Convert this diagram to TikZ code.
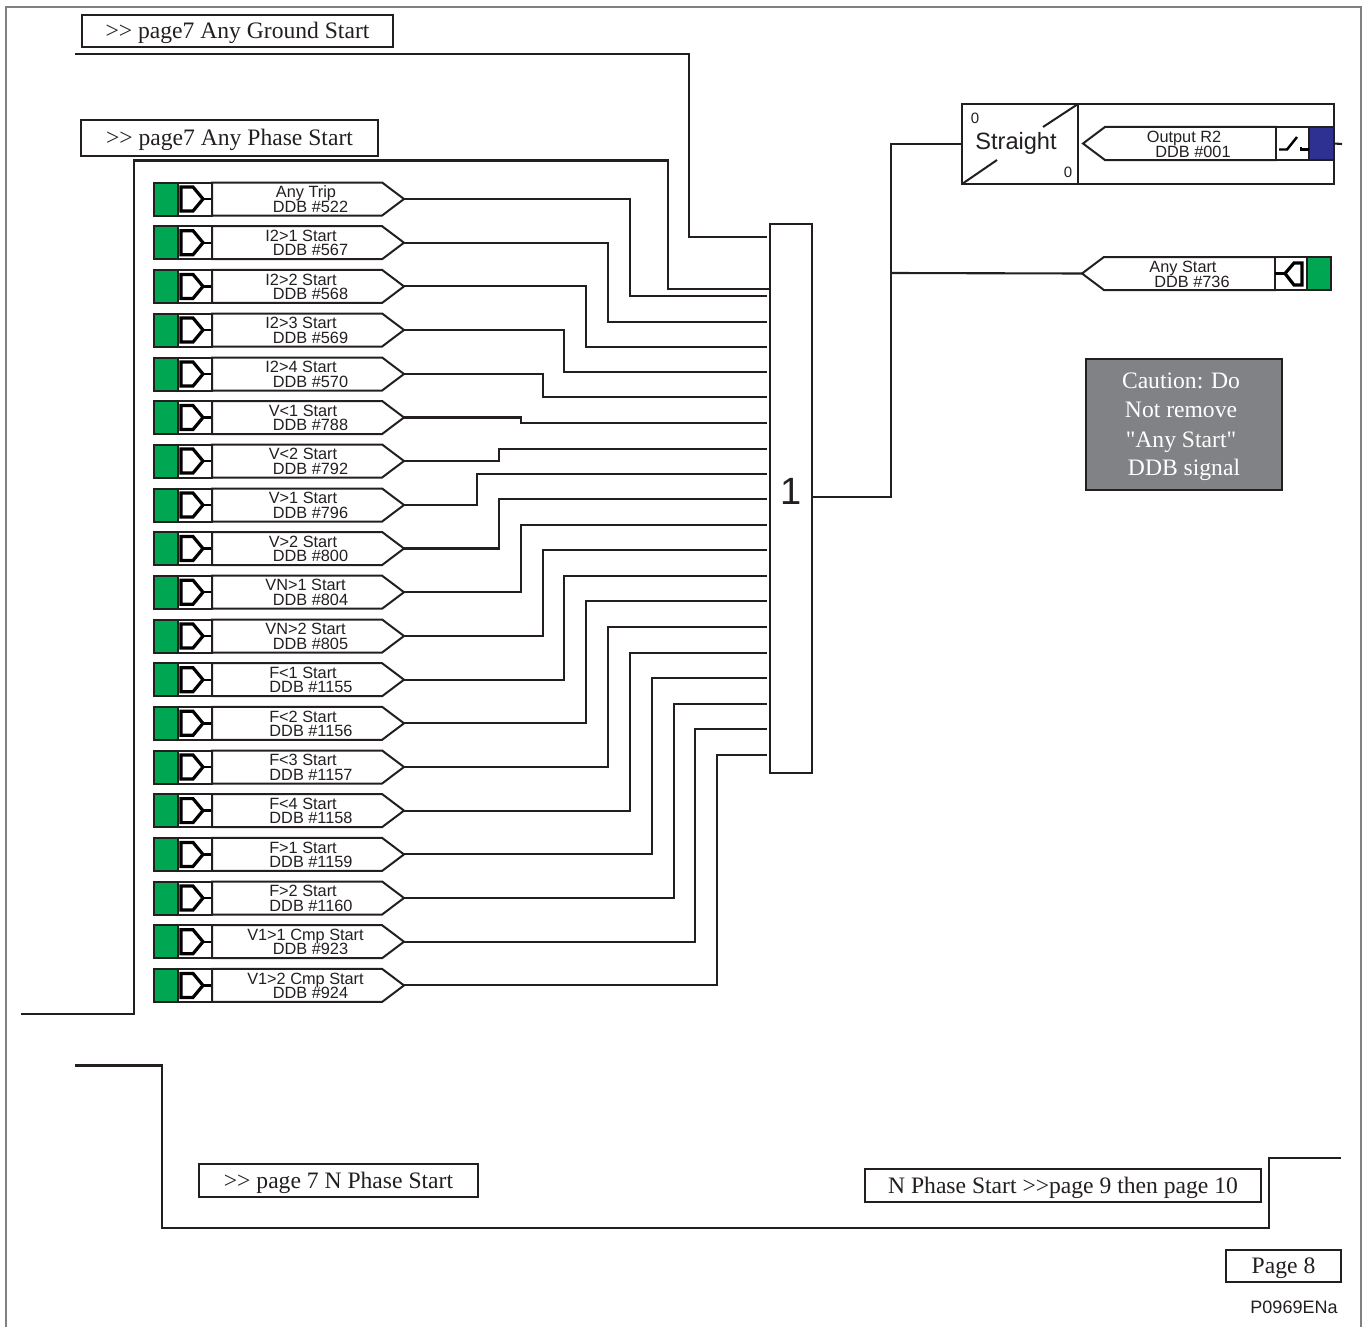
\documentclass[tikz,border=0pt]{standalone}
\usepackage{fontspec}
\setmainfont{Liberation Serif}
\setsansfont{Liberation Sans}
\newfontfamily\plainserif{Liberation Serif}
\usetikzlibrary{shapes.symbols}
\definecolor{ddbgreen}{HTML}{00A651}
\definecolor{ddbblue}{HTML}{2E3192}
\definecolor{inkline}{HTML}{231F20}
\definecolor{cautiongrey}{HTML}{808285}
\definecolor{framegrey}{HTML}{808080}
\tikzset{
  wire/.style={draw=inkline,line width=2.1pt,line join=miter},
  plainbox/.style={draw=inkline,line width=2pt,fill=white,inner sep=0pt,outer sep=0pt},
  cellgreen/.style={plainbox,fill=ddbgreen},
  cellblue/.style={plainbox,fill=ddbblue},
  iconbox/.style={plainbox},
  iconline/.style={draw=black,line width=3.2pt,line join=miter},
  ddbsig/.style={draw=inkline,line width=2pt,fill=white,shape=signal,signal pointer angle=74,
     minimum height=33pt,inner sep=0pt,outer sep=0pt},
  sigtext/.style={font=\sffamily\fontsize{16.3}{16.3}\selectfont,text=inkline,inner sep=0pt,text height=11.5pt,text depth=3.5pt},
  pagebox/.style={plainbox,font=\rmfamily\fontsize{23.6}{24}\selectfont,text=inkline,text height=20pt,text depth=4.4pt},
  cautiontext/.style={font=\plainserif\fontsize{23.6}{24}\selectfont,text=white,inner sep=0pt,text height=17pt,text depth=5pt},
}
\begin{document}
\begin{tikzpicture}[x=1pt,y=-1pt]
\useasboundingbox (0,0) rectangle (1362,1327);
% page frame
\draw[draw=framegrey,line width=2pt] (5.5,1327) -- (5.5,7.5) -- (1361,7.5) -- (1361,1327);
% OR gate
\node[plainbox,minimum width=42pt,minimum height=549pt] (orgate) at (791,498.5) {};
\node[font=\sffamily\fontsize{38}{38}\selectfont,text=inkline,inner sep=0pt] (orlabel) at (791,491) {1};
% rows
\foreach \i/\cy/\bx/\iy/\a/\ax/\b/\bxx in {
 1/199/630/296/Any Trip/306/DDB \#522/310.5,
 2/242.7/608/322/I2>1 Start/301/DDB \#567/310.5,
 3/286.4/586/347/I2>2 Start/301/DDB \#568/310.5,
 4/330/564/372/I2>3 Start/301/DDB \#569/310.5,
 5/374/543/397/I2>4 Start/301/DDB \#570/310.5,
 6/417.5/521/423/V<1 Start/303/DDB \#788/310.5,
 7/461/499/449/V<2 Start/303/DDB \#792/310.5,
 8/505/477/474/V>1 Start/303/DDB \#796/310.5,
 9/548.5/499/499/V>2 Start/303/DDB \#800/310.5,
 10/592.2/521/525/VN>1 Start/305.5/DDB \#804/310.5,
 11/636/543/550/VN>2 Start/305.5/DDB \#805/310.5,
 12/679.7/564/576/F<1 Start/303/DDB \#1155/311,
 13/723.3/586/601/F<2 Start/303/DDB \#1156/311,
 14/767/608/627/F<3 Start/303/DDB \#1157/311,
 15/810.6/630/653/F<4 Start/303/DDB \#1158/311,
 16/854.4/652/678/F>1 Start/303/DDB \#1159/311,
 17/898/674/704/F>2 Start/303/DDB \#1160/311,
 18/941.7/695/729/V1>1 Cmp Start/305.5/DDB \#923/310.5,
 19/985.4/717/755/V1>2 Cmp Start/305.5/DDB \#924/310.5}{
  \node[cellgreen,minimum width=25pt,minimum height=33pt] (g\i) at (166,\cy) {};
  \node[iconbox,minimum width=34pt,minimum height=33pt] (ic\i) at (195,\cy) {};
  \draw[iconline] (181,\cy-12) -- (193,\cy-12) -- (203,\cy) -- (193,\cy+12) -- (181,\cy+12) -- cycle;
  \draw[iconline,line width=2.4pt] (203,\cy) -- (ic\i.east);
  \node[ddbsig,signal to=east,minimum width=192pt,anchor=east] (s\i) at (404,\cy) {};
  \node[sigtext] (la\i) at (\ax,\cy-5.3) {\a};
  \node[sigtext] (lb\i) at (\bxx,\cy+9.2) {\b};
  \coordinate (in\i) at (767,\iy);
  \draw[wire] (s\i.east) -- (\bx,\cy) -- (\bx,\iy) -- (in\i);
}
% top and bottom page links
\coordinate (groundfrom) at (75,54);
\coordinate (groundin) at (767,237);
\draw[wire] (groundfrom) -- (689,54) -- (689,237) -- (groundin);
\coordinate (phasefrom) at (21,1014);
\coordinate (phasein) at (771,289);
\draw[wire,line width=2.2pt] (phasefrom) -- (134,1014) -- (134,160.5) -- (668,160.5) -- (668,289) -- (phasein);
\coordinate (nfrom) at (75,1065.5);
\coordinate (nto) at (1341,1158);
\draw[wire] (nfrom) -- (162,1065.5) -- (162,1228) -- (1269,1228) -- (1269,1158) -- (nto);
\node[pagebox,minimum width=311pt,minimum height=32pt] (pgground) at (237.5,31) {>{}> page7 Any Ground Start};
\node[pagebox,minimum width=297pt,minimum height=36pt] (pgphase) at (229.5,138) {>{}> page7 Any Phase Start};
\node[pagebox,minimum width=279pt,minimum height=33pt] (pgn) at (338.5,1180.5) {>{}> page 7 N Phase Start};
\node[pagebox,minimum width=396pt,minimum height=33pt] (pgnout) at (1063,1185.5) {N Phase Start >{}>page 9 then page 10};
\node[pagebox,minimum width=115pt,minimum height=32pt] (pgnum) at (1283.5,1266) {Page 8};
\node[font=\sffamily\fontsize{18}{18}\selectfont,text=inkline,inner sep=0pt] (code) at (1294,1307.5) {P0969ENa};
% right side
\node[plainbox,minimum width=116pt,minimum height=80pt] (straight) at (1020,144) {};
\node[plainbox,minimum width=256pt,minimum height=80pt] (outer) at (1206,144) {};
\draw[draw=inkline,line width=2pt] (straight.north east) -- (1043,127);
\draw[draw=inkline,line width=2pt] (straight.south west) -- (997,160);
\node[font=\sffamily\fontsize{23.6}{24}\selectfont,text=inkline,inner sep=0pt] (strtext) at (1016,143) {Straight};
\node[font=\sffamily\fontsize{15}{15}\selectfont,text=inkline,inner sep=0pt] (zeroa) at (975,118) {0};
\node[font=\sffamily\fontsize{15}{15}\selectfont,text=inkline,inner sep=0pt] (zerob) at (1068,172) {0};
\draw[wire] (orgate.east |- 0,497) -- (891,497) -- (891,144) -- (straight.west);
\node[ddbsig,signal to=west,minimum width=193pt,anchor=west] (outsig) at (1083,143.5) {};
\node[iconbox,minimum width=33pt,minimum height=33pt] (swbox) at (1292.5,143.5) {};
\node[cellblue,minimum width=25pt,minimum height=33pt] (bluebox) at (1321.5,143.5) {};
\draw[draw=black,line width=2.4pt] (1279,149.5) -- (1287,149.5) -- (1297,137);
\draw[draw=black,line width=2.4pt] (1301,146.5) -- (1301,149.5) -- (1309,149.5);
\coordinate (stub) at (1342,144);
\draw[wire] (bluebox.east) -- (stub);
\node[sigtext] at (1184,138.7) (ol1) {Output R2};
\node[sigtext] at (1193,153.7) (ol2) {DDB \#001};
\node[ddbsig,signal to=west,minimum width=193pt,anchor=west] (startsig) at (1082,273.5) {};
\node[iconbox,minimum width=32pt,minimum height=33pt] (stbox) at (1291,273.5) {};
\node[cellgreen,minimum width=24pt,minimum height=33pt] (stgreen) at (1319,273.5) {};
\draw[iconline,line width=2.4pt] (stbox.west) -- (1285,273.5);
\draw[iconline] (1285,273.5) -- (1294,263) -- (1302,263) -- (1302,285) -- (1294,285) -- cycle;
\node[sigtext] at (1183,268.4) (al1) {Any Start};
\node[sigtext] at (1192,283.7) (al2) {DDB \#736};
\coordinate (branch) at (891,273);
\draw[wire] (branch) -- (startsig.west);
% caution
\node[plainbox,draw=inkline,fill=cautiongrey,minimum width=196pt,minimum height=131pt] (caution) at (1184,424.5) {};
\foreach \n/\x/\y/\t in {1/1181/382.5/Caution: Do,2/1181/411.5/Not remove,3/1181/441/"Any Start",4/1184/469.5/DDB signal}{
  \node[cautiontext] (ct\n) at (\x,\y) {\t};
}
\end{tikzpicture}
\end{document}
